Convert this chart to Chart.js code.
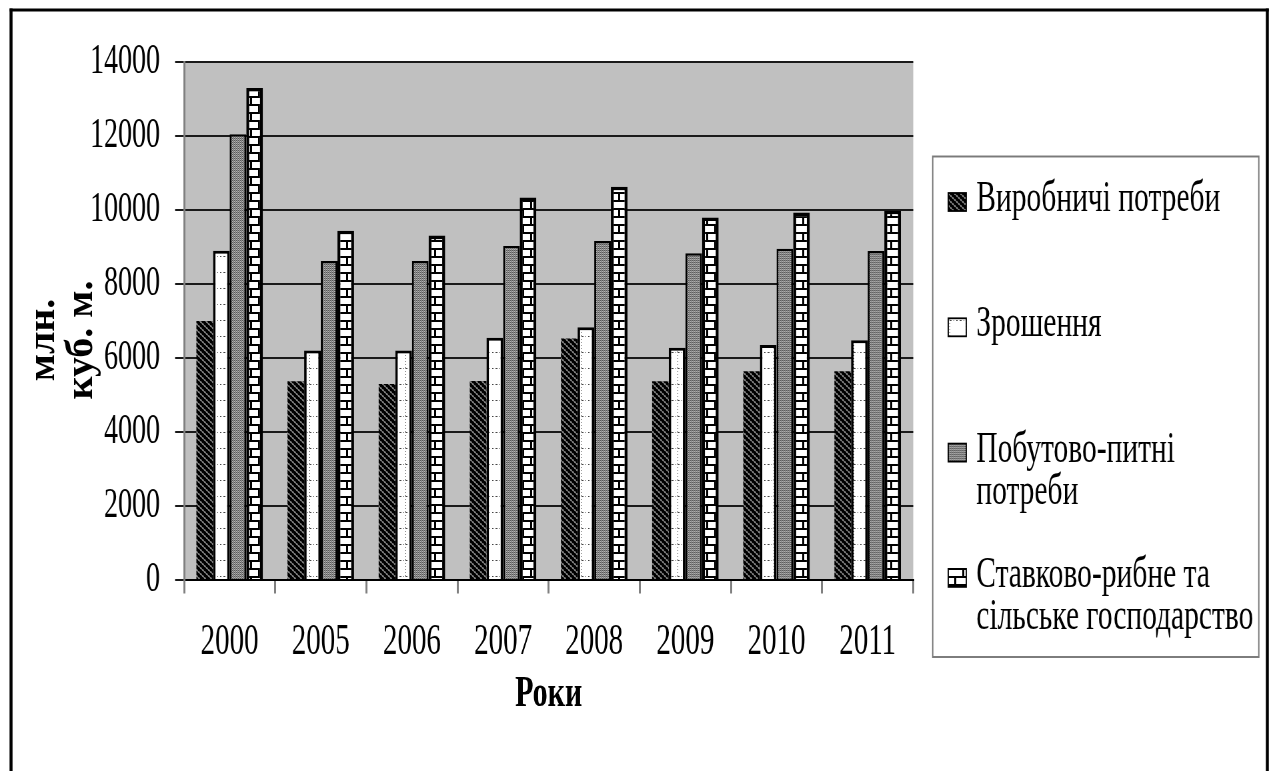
<!DOCTYPE html>
<html>
<head>
<meta charset="utf-8">
<script src="https://cdn.jsdelivr.net/npm/chart.js@4.4.1/dist/chart.umd.min.js"></script>
<style>
  html, body { margin: 0; padding: 0; background: #fff; width: 1273px; height: 771px; overflow: hidden; }
  #page { position: relative; width: 1273px; height: 771px; overflow: hidden; }
  /* The chart is laid out 1.5x shorter and stretched vertically, which gives
     the tall, narrow lettering of the printed figure. */
  #wrap { position: absolute; left: 0; top: 0; width: 1273px; height: 514px;
          transform: scaleY(1.5); transform-origin: 0 0; }
  canvas { display: block; }
</style>
</head>
<body>
<div id="page"><div id="wrap"><canvas id="c" width="1273" height="514"></canvas></div></div>
<script>
// ---- data -------------------------------------------------------------
const years = ['2000', '2005', '2006', '2007', '2008', '2009', '2010', '2011'];
const industrial  = [7000, 5370, 5300, 5380, 6530, 5370, 5640, 5640];
const irrigation  = [8900, 6200, 6200, 6550, 6830, 6280, 6350, 6480];
const household   = [12050, 8620, 8620, 9030, 9160, 8830, 8950, 8890];
const fishFarming = [13300, 9440, 9310, 10340, 10630, 9800, 9930, 9980];
const seriesNames = [
  'Виробничі потреби',
  'Зрошення',
  'Побутово-питні потреби',
  'Ставково-рибне та сільське господарство'
];
const yMin = 0, yMax = 14000, yStep = 2000;
const yTitleLines = ['млн.', 'куб. м.'];
const xTitle = 'Роки';

// ---- geometry helpers ---------------------------------------------------
const SY = 1.5;          // vertical stretch applied by CSS
const DPR = 1.5;         // backing pixels per layout unit
const SERIF = '"Liberation Serif", "Times New Roman", serif';

const canvas = document.getElementById('c');
const ctx = canvas.getContext('2d');

// Build a repeating fill. The painter works in screen pixels (after the stretch).
function makePattern(wScr, hScr, painter) {
  const tw = Math.round(wScr * DPR), th = hScr;
  const tile = document.createElement('canvas');
  tile.width = tw; tile.height = th;
  const g = tile.getContext('2d');
  const img = g.createImageData(tw, th);
  for (let by = 0; by < th; by++) {
    for (let bx = 0; bx < tw; bx++) {
      const c = painter(Math.floor(bx / DPR), by);
      const k = (by * tw + bx) * 4;
      img.data[k] = c[0]; img.data[k + 1] = c[1]; img.data[k + 2] = c[2]; img.data[k + 3] = 255;
    }
  }
  g.putImageData(img, 0, 0);
  const p = ctx.createPattern(tile, 'repeat');
  p.setTransform(new DOMMatrix().scale(1 / DPR, 1 / DPR));
  return p;
}
const BLACK = [0, 0, 0], WHITE = [255, 255, 255];

// diagonal black / grey stripes
const stripes = makePattern(6, 6, (x, y) => (((x - y) % 6 + 6) % 6) < 4 ? BLACK : [120, 120, 120]);
// white with a dotted grey grid
const dots = makePattern(16, 16, (x, y) => {
  if (y === 0 && x % 3 === 0) return [70, 70, 70];
  if (x === 5 && y % 3 === 0) return [70, 70, 70];
  return WHITE;
});
// fine grey checker
const checker = makePattern(2, 2, (x, y) => ((x + y) % 2 === 0) ? [88, 88, 88] : [178, 178, 178]);
// brick wall
const bricks = makePattern(16, 16, (x, y) => {
  const r = y % 8, row = Math.floor(y / 8);
  if (r < 2) return BLACK;
  const pos = row === 0 ? 10 : 2;
  return (x === pos || x === pos + 1) ? BLACK : WHITE;
});

// ---- plugins ----------------------------------------------------------------
const plotBackground = {
  id: 'plotBackground',
  beforeDraw(chart) {
    const { ctx, chartArea: a } = chart;
    ctx.save();
    ctx.fillStyle = '#c0c0c0';
    ctx.fillRect(a.left, a.top, a.right - a.left, a.bottom - a.top);
    ctx.restore();
  }
};

function wrapText(c, text, maxW) {
  const words = text.split(' ');
  const lines = [];
  let cur = '';
  for (const w of words) {
    const t = cur ? cur + ' ' + w : w;
    if (cur && c.measureText(t).width > maxW) { lines.push(cur); cur = w; }
    else cur = t;
  }
  if (cur) lines.push(cur);
  return lines;
}

const sideLegend = {
  id: 'sideLegend',
  afterDraw(chart) {
    const c = chart.ctx;
    c.save();
    const bx = 932.5, by = 156.5 / SY, bw = 326, bh = (657 - 156.5) / SY;
    c.fillStyle = '#fff';
    c.fillRect(bx, by, bw, bh);
    c.strokeStyle = '#7a7a7a';
    c.lineWidth = 1.3;
    c.strokeRect(bx, by, bw, bh);
    c.font = '29.5px ' + SERIF;
    c.textBaseline = 'alphabetic';
    chart.data.datasets.forEach((ds, i) => {
      const base = (211 + i * 125.3) / SY;
      const mw = 18, mh = 18 / SY;
      c.fillStyle = ds.backgroundColor;
      c.fillRect(948, base - mh, mw, mh);
      c.strokeStyle = '#000';
      c.lineWidth = 1.2;
      c.strokeRect(948, base - mh, mw, mh);
      c.fillStyle = '#000';
      wrapText(c, ds.label, 290).forEach((ln, k) => c.fillText(ln, 976, base + k * 42 / SY));
    });
    c.restore();
  }
};

const yAxisTitle = {
  id: 'yAxisTitle',
  afterDraw(chart) {
    const c = chart.ctx;
    const cy = 340 / SY;
    const xs = [44, 82];
    c.save();
    c.font = 'bold 40px ' + SERIF;
    c.fillStyle = '#000';
    c.textAlign = 'center';
    c.textBaseline = 'middle';
    yTitleLines.forEach((t, i) => {
      c.save();
      c.translate(xs[i], cy);
      c.rotate(-Math.PI / 2);
      c.scale(1 / SY, 1);   // undo the stretch along the rotated text
      c.fillText(t, 0, 0);
      c.restore();
    });
    c.restore();
  }
};

const frame = {
  id: 'frame',
  afterDraw(chart) {
    const c = chart.ctx;
    c.save();
    c.fillStyle = '#000';
    const top = 8.5 / SY;
    c.fillRect(9.5, top, 3, 514);
    c.fillRect(9.5, top, 1259, 3 / SY);
    c.fillRect(1265.5, top, 3, 514);
    c.restore();
  }
};

// ---- chart --------------------------------------------------------------------
Chart.defaults.font.family = SERIF;
Chart.defaults.color = '#000';

new Chart(ctx, {
  type: 'bar',
  data: {
    labels: years,
    datasets: [
      { label: seriesNames[0], data: industrial, backgroundColor: stripes, borderWidth: 0 },
      { label: seriesNames[1], data: irrigation, backgroundColor: dots, borderColor: '#000',
        borderWidth: { left: 2.5, right: 2.5, top: 2, bottom: 0 } },
      { label: seriesNames[2], data: household, backgroundColor: checker, borderColor: '#000',
        borderWidth: { left: 2, right: 2, top: 1.6, bottom: 0 } },
      { label: seriesNames[3], data: fishFarming, backgroundColor: bricks, borderColor: '#000',
        borderWidth: { left: 3, right: 3, top: 2.4, bottom: 0 } }
    ]
  },
  options: {
    responsive: false,
    devicePixelRatio: DPR,
    animation: false,
    events: [],
    layout: { padding: { left: 0, right: 360, top: 62 / SY, bottom: 514 - 580 / SY - 100 } },
    datasets: { bar: { categoryPercentage: 0.73, barPercentage: 1 } },
    plugins: { legend: { display: false }, tooltip: { enabled: false } },
    scales: {
      x: {
        grid: { offset: true, drawOnChartArea: false, drawTicks: true, tickLength: 9,
                color: '#808080', lineWidth: 2 },
        border: { display: true, color: '#000', width: 4 / 3 },
        ticks: { color: '#000', font: { size: 29 }, padding: 15, maxRotation: 0, autoSkip: false },
        title: { display: true, text: xTitle, color: '#000',
                 font: { size: 30, weight: 'bold' }, padding: { top: 0, bottom: 6 } },
        afterFit(s) { s.height = 100; }
      },
      y: {
        min: yMin, max: yMax,
        ticks: { stepSize: yStep, color: '#000', font: { size: 28 }, padding: 15,
                 callback: v => String(v) },
        grid: { color: '#1a1a1a', lineWidth: 4 / 3, tickLength: 9, drawTicks: true },
        border: { display: true, color: '#808080', width: 2 },
        afterFit(s) { s.width = 184; }
      }
    }
  },
  plugins: [plotBackground, sideLegend, yAxisTitle, frame]
});
</script>
</body>
</html>
